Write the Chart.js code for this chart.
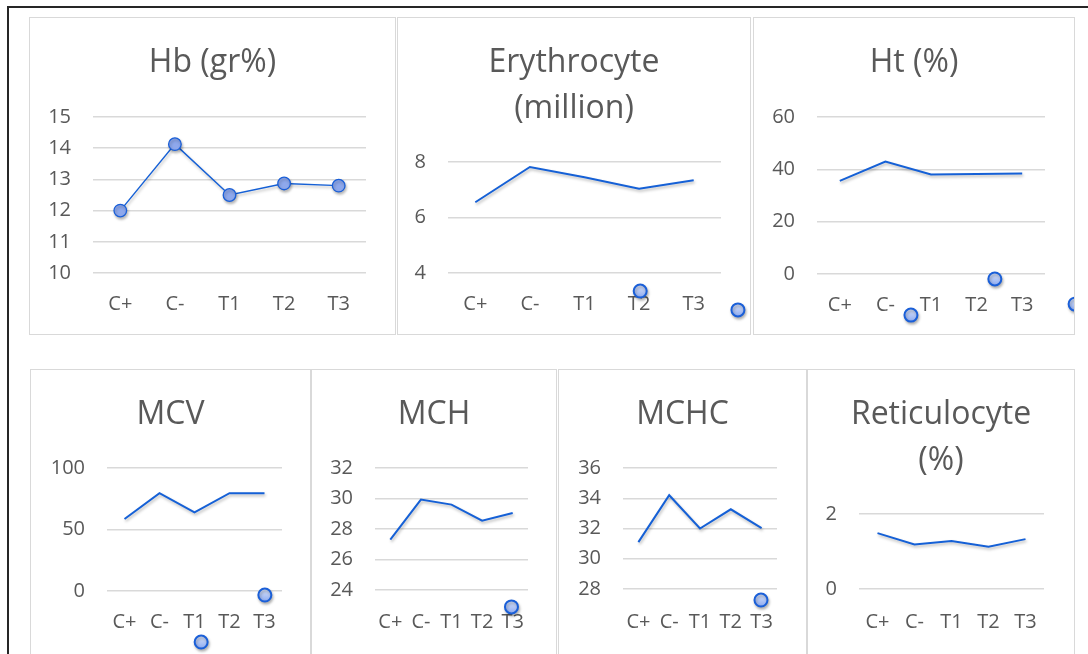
<!DOCTYPE html>
<html>
<head>
<meta charset="utf-8">
<script src="https://cdn.jsdelivr.net/npm/chart.js@4.4.1/dist/chart.umd.min.js"></script>
<style>
  body{margin:0;background:#fff;width:1088px;height:654px;overflow:hidden;position:relative;font-family:'Open Sans',sans-serif}
  #frame{position:absolute;left:7px;top:6px;width:1200px;height:800px;border:2px solid #262626}
  .panel{position:absolute;box-sizing:border-box;border:1px solid #d9d9d9;background:#fff;overflow:hidden}
  .panel canvas{position:absolute;left:0;top:0}
</style>
</head>
<body>
<div id="frame"></div>
<script>
'use strict';

// --- Data ---
const groups = ['C+', 'C-', 'T1', 'T2', 'T3'];

const hbValues    = [12.0, 14.13, 12.5, 12.87, 12.8];
const eryValues   = [6.55, 7.82, 7.45, 7.04, 7.34];
const htValues    = [35.6, 43.0, 38.0, 38.2, 38.4];
const mcvValues   = [58.5, 79.5, 64.0, 79.5, 79.5];
const mchValues   = [27.3, 29.93, 29.6, 28.55, 29.05];
const mchcValues  = [31.1, 34.2, 32.0, 33.27, 32.03];
const reticValues = [1.49, 1.19, 1.28, 1.13, 1.33];

// y axis [min, max, step]
const hbTicks    = [10, 15, 1];
const eryTicks   = [4, 8, 2];
const htTicks    = [0, 60, 20];
const mcvTicks   = [0, 100, 50];
const mchTicks   = [24, 32, 2];
const mchcTicks  = [28, 36, 2];
const reticTicks = [0, 2, 2];

// loose markers left over below the plots (x = category index)
const eryStray  = [{x: 3.02, y: 3.35}, {x: 4.81, y: 2.67}];
const htStray   = [{x: 1.56, y: -15.7}, {x: 3.40, y: -1.9}, {x: 5.16, y: -11.5}];
const mcvStray  = [{x: 4.01, y: -3.3}, {x: 2.19, y: -41.5}];
const mchStray  = [{x: 3.96, y: 22.89}];
const mchcStray = [{x: 3.98, y: 27.27}];

// --- Layout (box = panel border, plot = chart area, page coords) ---
const panels = [
  { title: 'Hb (gr%)', values: hbValues, ticks: hbTicks, stray: [], markers: true,
    box: [29, 17, 367, 318], plot: [93, 117, 366, 273], titleY: 63, labelY: 304 },
  { title: ['Erythrocyte', '(million)'], values: eryValues, ticks: eryTicks, stray: eryStray,
    box: [397, 17, 354, 318], plot: [448, 162, 721, 273], titleY: 63, labelY: 304 },
  { title: 'Ht (%)', values: htValues, ticks: htTicks, stray: htStray,
    box: [753, 17, 322, 318], plot: [817, 117, 1045, 274], titleY: 63, labelY: 305 },
  { title: 'MCV', values: mcvValues, ticks: mcvTicks, stray: mcvStray,
    box: [30, 369, 281, 300], plot: [107, 468, 282, 591], titleY: 415, labelY: 622 },
  { title: 'MCH', values: mchValues, ticks: mchTicks, stray: mchStray,
    box: [311, 369, 246, 300], plot: [375, 468, 528, 590], titleY: 415, labelY: 622 },
  { title: 'MCHC', values: mchcValues, ticks: mchcTicks, stray: mchcStray,
    box: [558, 369, 249, 300], plot: [623, 468, 777, 589], titleY: 415, labelY: 622 },
  { title: ['Reticulocyte', '(%)'], values: reticValues, ticks: reticTicks, stray: [],
    box: [807, 369, 268, 300], plot: [859, 514, 1044, 589], titleY: 415, labelY: 622 }
];

const TEXT = '#595959';
const GRID = '#d9d9d9';
const BLUE = '#1560d6';
const TITLE_SIZE = 32, TITLE_LH = 46;
const TICK_SIZE = 20, TICK_LH = TICK_SIZE * 1.2;

// soft shadow under lines and markers
const shadowPlugin = {
  id: 'shadow',
  beforeDatasetsDraw(chart){
    const c = chart.ctx;
    c.save();
    c.shadowColor = 'rgba(0,0,0,0.28)';
    c.shadowBlur = 3;
    c.shadowOffsetX = 1;
    c.shadowOffsetY = 2;
  },
  afterDatasetsDraw(chart){ chart.ctx.restore(); }
};

// the loose markers sit outside the chart area, so draw them without the area check
// (and give them the light-to-blue Excel fill)
const strayPlugin = {
  id: 'stray',
  beforeDatasetDraw(chart, args){
    if (args.meta.type !== 'scatter') return;
    const c = chart.ctx;
    args.meta.data.forEach(pt => {
      const g = c.createLinearGradient(0, pt.y - 7, 0, pt.y + 7);
      g.addColorStop(0, '#dfe8fc');
      g.addColorStop(1, '#8aa8f0');
      pt.options.backgroundColor = g;
      pt.draw(c);
    });
    return false;
  }
};

function makeChart(p){
  const [bx, by, bw, bh] = p.box;
  const [pl, pt, pr, pb] = p.plot;
  const div = document.createElement('div');
  div.className = 'panel';
  Object.assign(div.style, { left: bx + 'px', top: by + 'px', width: bw + 'px', height: bh + 'px' });
  const cv = document.createElement('canvas');
  cv.width = bw - 2; cv.height = bh - 2;
  div.appendChild(cv);
  document.body.appendChild(div);

  const ox = bx + 1, oy = by + 1;
  const nLines = Array.isArray(p.title) ? p.title.length : 1;
  const titleTop = p.titleY - oy - TITLE_LH / 2;
  const titleBottom = pt - oy - titleTop - nLines * TITLE_LH;
  const yWidth = pl - ox;
  const rWidth = (bx + bw - 1) - pr;
  const xHeight = (by + bh - 1) - pb;
  const [ymin, ymax, ystep] = p.ticks;

  const datasets = [{
    type: 'line',
    data: p.values,
    borderColor: BLUE,
    borderWidth: p.markers ? 1.4 : 2,
    tension: 0,
    pointRadius: p.markers ? 6.3 : 0,
    pointBackgroundColor: '#8ea8ec',
    pointBorderColor: '#1a5fd8',
    pointBorderWidth: 1.3
  }];
  if (p.stray.length) {
    datasets.push({
      type: 'scatter',
      xAxisID: 'xs',
      data: p.stray,
      clip: false,
      pointRadius: 6.5,
      pointBackgroundColor: '#a9c0f4',
      pointBorderColor: '#1a5fd8',
      pointBorderWidth: 2
    });
  }

  new Chart(cv, {
    data: { labels: groups, datasets },
    plugins: [shadowPlugin, strayPlugin],
    options: {
      responsive: false,
      animation: false,
      events: [],
      layout: { padding: 0 },
      plugins: {
        legend: { display: false },
        tooltip: { enabled: false },
        title: {
          display: true,
          text: p.title,
          color: TEXT,
          font: { family: 'Open Sans', size: TITLE_SIZE, weight: 'normal', lineHeight: TITLE_LH + 'px' },
          padding: { top: titleTop, bottom: titleBottom }
        }
      },
      scales: {
        x: {
          type: 'category',
          offset: true,
          grid: { display: false, drawTicks: false },
          border: { display: false },
          ticks: {
            color: TEXT,
            font: { family: 'Open Sans', size: TICK_SIZE },
            padding: p.labelY - pb - TICK_LH / 2,
            maxRotation: 0,
            autoSkip: false
          },
          afterFit: s => { s.height = xHeight; }
        },
        xs: { type: 'linear', display: false, min: -0.5, max: 4.5 },
        y: {
          min: ymin, max: ymax,
          grid: { color: GRID, lineWidth: 1.5, drawTicks: false },
          border: { display: false },
          ticks: {
            stepSize: ystep,
            color: TEXT,
            font: { family: 'Open Sans', size: TICK_SIZE },
            padding: 22
          },
          afterFit: s => { s.width = yWidth; }
        },
        // empty right margin so the title stays centred on the panel
        yr: {
          position: 'right',
          grid: { display: false },
          border: { display: false },
          ticks: { display: false },
          afterFit: s => { s.width = rWidth; }
        }
      }
    }
  });
}

panels.forEach(makeChart);
</script>
</body>
</html>
